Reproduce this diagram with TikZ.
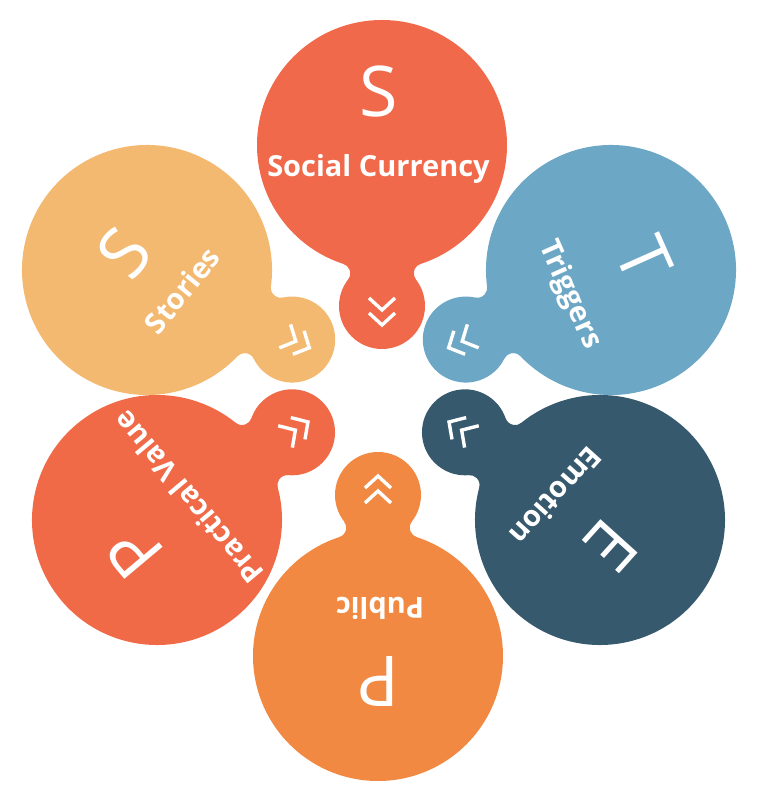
\documentclass[tikz,border=0pt]{standalone}
\usepackage{fontspec}
\setmainfont{Open Sans}
\newfontfamily\thinfont{Open Sans}
\usepackage{tikz}
\definecolor{SocialRed}{HTML}{F0694A}
\definecolor{TriggerBlue}{HTML}{6CA7C6}
\definecolor{EmotionSlate}{HTML}{36596E}
\definecolor{PublicOrange}{HTML}{F18943}
\definecolor{PracticalRed}{HTML}{F06A48}
\definecolor{StoriesSand}{HTML}{F4B970}

\begin{document}
\begin{tikzpicture}[
  x=1pt, y=1pt,
  letter/.style={text=white, inner sep=0pt, font=\thinfont\fontsize{70}{70}\selectfont},
  blobtext/.style={text=white, inner sep=0pt, text height=20.5pt, text depth=0pt, font=\bfseries\fontsize{29}{29}\selectfont},
  chevron/.style={draw=white, line width=3.4pt}
]
\useasboundingbox (0,0) rectangle (768,793);

% big circle, small circle and the filleted neck between them
\foreach \cx/\cy/\ang/\col in {382/648/-90/SocialRed, 611/523/205.6/TriggerBlue, 600/273/147/EmotionSlate,
                               378/137/90/PublicOrange, 157/273/33/PracticalRed, 147/523/-25.6/StoriesSand}{
  \begin{scope}[shift={(\cx,\cy)}, rotate=\ang]
    \fill[\col] (0,0) circle[radius=125] (161,0) circle[radius=43];
    \fill[\col] (118.87,38.67) arc[start angle=198.06, end angle=308.0, radius=10]
      -- (134.53,-33.89) arc[start angle=52.0, end angle=161.94, radius=10] -- cycle;
    \draw[chevron] (153,13) -- (165,0) -- (153,-13);
    \draw[chevron] (168,13) -- (180,0) -- (168,-13);
  \end{scope}
}

% letters
\node[letter] (letterSC) at (379,701) {S};
\node[letter, rotate=-66] (letterT) at (644,533.5) {T};
\node[letter, rotate=228] (letterE) at (611,247) {E};
\node[letter, rotate=180] (letterPu) at (378,112) {P};
\node[letter, rotate=130] (letterPV) at (135,240.5) {P};
\node[letter, rotate=51] (letterSt) at (124,540.5) {S};

% names
\node[blobtext] (nameSC) at (378.5,626.3) {Social Currency};
\node[blobtext, rotate=-66] (nameT) at (572,499) {Triggers};
\node[blobtext, rotate=228] (nameE) at (556,297) {Emotion};
\node[blobtext, rotate=180] (namePu) at (380,185) {Public};
\node[blobtext, rotate=130] (namePV) at (188.3,295.5) {Practical Value};
\node[blobtext, rotate=51] (nameSt) at (182.5,502.2) {Stories};
\end{tikzpicture}
\end{document}
